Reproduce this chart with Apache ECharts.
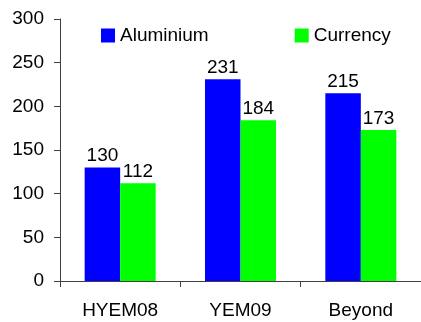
<!DOCTYPE html>
<html>
<head>
<meta charset="utf-8">
<script src="https://cdn.jsdelivr.net/npm/echarts@6/dist/echarts.min.js"></script>
<style>
  html, body { margin: 0; padding: 0; background: #fff; }
  #chart { width: 421px; height: 322px; }
</style>
</head>
<body>
<div id="chart"></div>
<script>
// Categories and values
const categories = ['HYEM08', 'YEM09', 'Beyond'];
const aluminium = [130, 231, 215];
const currency = [112, 184, 173];
const yTicks = [0, 50, 100, 150, 200, 250, 300];

const FONT = '"Liberation Sans", Arial, sans-serif';
const FS = 19;
const axisColor = '#404040';

const chart = echarts.init(document.getElementById('chart'), null, { renderer: 'canvas' });

chart.setOption({
  animation: false,
  backgroundColor: '#ffffff',
  textStyle: { fontFamily: FONT },
  legend: {
    left: 101,
    top: 26,
    padding: 0,
    itemWidth: 14,
    itemHeight: 14,
    itemGap: 86,
    icon: 'rect',
    textStyle: { fontFamily: FONT, fontSize: FS, color: '#000' },
    data: ['Aluminium', 'Currency']
  },
  grid: {
    left: 60,
    top: 19,
    width: 364,
    height: 262,
    containLabel: false
  },
  xAxis: {
    type: 'category',
    data: categories,
    axisLine: { lineStyle: { color: axisColor, width: 1 } },
    axisTick: { show: true, length: 6, lineStyle: { color: axisColor } },
    axisLabel: { fontFamily: FONT, fontSize: FS, color: '#000', margin: 20 },
    splitLine: { show: false }
  },
  yAxis: {
    type: 'value',
    min: yTicks[0],
    max: yTicks[yTicks.length - 1],
    interval: yTicks[1] - yTicks[0],
    axisLine: { show: true, lineStyle: { color: axisColor, width: 1 } },
    axisTick: { show: true, length: 6, lineStyle: { color: axisColor } },
    axisLabel: { fontFamily: FONT, fontSize: FS, color: '#000', margin: 16 },
    splitLine: { show: false }
  },
  series: [
    {
      name: 'Aluminium',
      type: 'bar',
      data: aluminium,
      barWidth: 35.5,
      barGap: '0%',
      itemStyle: { color: '#0000FF' },
      label: { show: true, position: 'top', distance: 2, fontFamily: FONT, fontSize: FS, color: '#000' }
    },
    {
      name: 'Currency',
      type: 'bar',
      data: currency,
      barWidth: 35.5,
      barGap: '0%',
      itemStyle: { color: '#00FF00' },
      label: { show: true, position: 'top', distance: 2, fontFamily: FONT, fontSize: FS, color: '#000' }
    }
  ]
});
</script>
</body>
</html>
